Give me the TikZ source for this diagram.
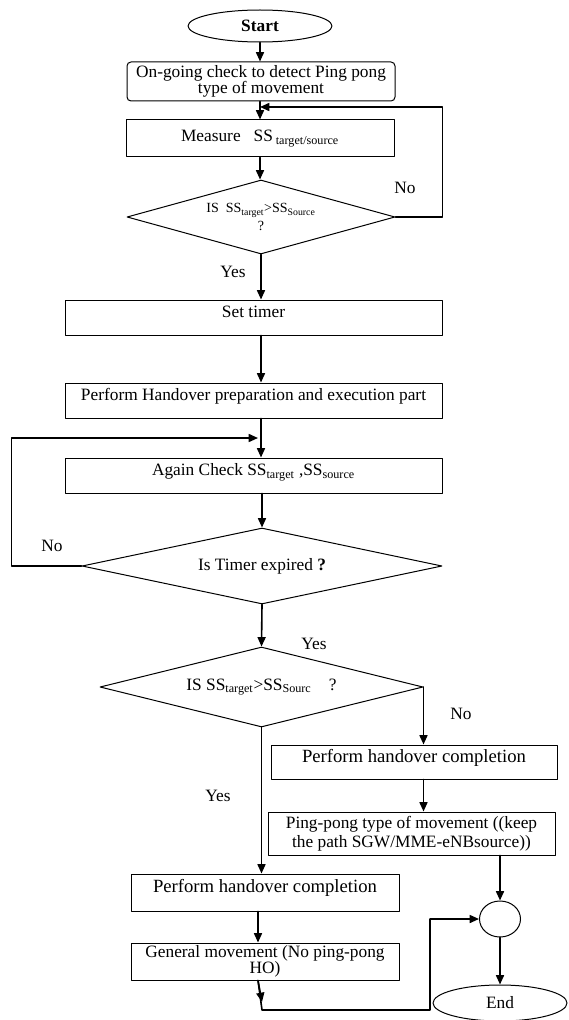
\documentclass[tikz,border=0pt]{standalone}
\usepackage{fontspec}
\setmainfont{Liberation Serif}
\usetikzlibrary{arrows.meta,calc,positioning,shapes.geometric}
\tikzset{
  every picture/.append style={line cap=round,line join=round},
  ho box/.style={draw,rectangle,line width=0.75pt,inner sep=1pt,align=center,font=\fontsize{13}{12}\selectfont},
  ho single/.style={text height=9.5pt,text depth=9pt},
  ho round/.style={ho box,rounded corners=3pt},
  ho decision/.style={draw,diamond,line width=0.75pt,inner sep=0pt,align=center,font=\fontsize{13}{14}\selectfont},
  ho terminal/.style={draw,ellipse,line width=0.75pt,inner sep=0pt,font=\fontsize{13}{14}\selectfont},
  ho arrow/.style={line width=1.2pt,-{Triangle[length=7pt,width=6pt]}},
  ho note/.style={font=\fontsize{13}{14}\selectfont,inner sep=1pt}
}
\begin{document}
\begin{tikzpicture}[x=0.75pt,y=-0.75pt]
  \useasboundingbox (0,0) rectangle (568,1020);
  \node[ho terminal,minimum width=108pt,minimum height=24pt,font=\fontsize{13}{14}\selectfont\bfseries] (start) at (260,26) {Start};
  \node[ho round,minimum width=201pt,minimum height=29.25pt] (ongo) at (261,81.5) {On-going check to detect Ping pong\\type of movement};
  \node[ho box,minimum width=201pt,minimum height=27.75pt,font=\fontsize{13}{14}\selectfont] (measure) at (260,138.5) {Measure~~~SS\,\textsubscript{target/source}};
  \node[ho decision,aspect=3.6,minimum width=201pt,minimum height=55.5pt,font=\fontsize{10.5}{13}\selectfont] (dec1) at (261,217) {IS~~SS\textsubscript{target}>SS\textsubscript{Source}\\?};
  \node[ho box,ho single,minimum width=282.75pt,minimum height=26.25pt] (timer) at (253.5,317.5) {Set timer};
  \node[ho box,ho single,minimum width=282.75pt,minimum height=26.25pt] (prep) at (253.5,400.5) {Perform Handover preparation and execution part};
  \node[ho box,ho single,minimum width=282.75pt,minimum height=26.25pt] (again) at (253.5,475.5) {Again Check SS\textsubscript{target} ,SS\textsubscript{source}};
  \node[ho decision,aspect=4.7,minimum width=270pt,minimum height=57pt] (dec2) at (262,566) {Is Timer expired \textbf{?}};
  \node[ho decision,aspect=4,minimum width=242.25pt,minimum height=60pt] (dec3) at (261.5,687) {IS SS\textsubscript{target}>SS\textsubscript{Sourc}\quad?};
  \node[ho box,ho single,minimum width=214.5pt,minimum height=25.5pt,font=\fontsize{14}{15}\selectfont] (doneR) at (414,762) {Perform handover completion};
  \node[ho box,minimum width=215.25pt,minimum height=32.25pt,font=\fontsize{13}{14}\selectfont] (pingpong) at (411.5,833.5) {Ping-pong type of movement ((keep\\the path SGW/MME-eNBsource))};
  \node[ho box,ho single,minimum width=201pt,minimum height=27.75pt,font=\fontsize{14}{15}\selectfont] (doneL) at (265,892.5) {Perform handover completion};
  \node[ho box,minimum width=201pt,minimum height=27.75pt] (general) at (265,961.5) {General movement (No ping-pong\\HO)};
  \node[draw,ellipse,line width=0.75pt,minimum width=30.75pt,minimum height=27pt] (join) at (500,919) {};
  \node[ho terminal,minimum width=100.5pt,minimum height=27pt] (finish) at (500,1003) {End};

  \coordinate (loopA) at (260,107);
  \coordinate (loopB) at (258,438);
  \coordinate (turn) at (262,1010);

  \draw[ho arrow] (start.south) -- (start.south |- ongo.north);
  \draw[ho arrow] (start.south |- ongo.south) -- (measure.north);
  \draw[ho arrow] (measure.south) -- (measure.south |- dec1.north);
  \draw[ho arrow] (dec1.east) -- ++(47,0) |- (loopA);
  \node[ho note] (no1) at (405,188) {No};
  \draw[ho arrow] (dec1.south) -- (dec1.south |- timer.north);
  \node[ho note] (yes1) at (233,272) {Yes};
  \draw[ho arrow] (dec1.south |- timer.south) -- (dec1.south |- prep.north);
  \draw[ho arrow] (dec1.south |- prep.south) -- (dec1.south |- again.north);
  \draw[ho arrow] (dec2.west) -- ++(-70,0) |- (loopB);
  \node[ho note] (no2) at (52,546) {No};
  \draw[ho arrow] (dec2.north |- again.south) -- (dec2.north);
  \draw[ho arrow] (dec2.south) -- (dec3.north);
  \node[ho note] (yes2) at (314,644) {Yes};
  \draw[ho arrow] (dec3.east) -- (dec3.east |- doneR.north);
  \node[ho note] (no3) at (461,714) {No};
  \draw[ho arrow] (dec3.east |- doneR.south) -- (dec3.east |- pingpong.north);
  \draw[ho arrow] (join.north |- pingpong.south) -- (join.north);
  \draw[ho arrow] (join.south) -- (finish.north);
  \draw[ho arrow] (dec3.south) -- (dec3.south |- doneL.north);
  \node[ho note] (yes3) at (218,796) {Yes};
  \draw[ho arrow] ([xshift=-5.25pt]doneL.south) -- ([xshift=-5.25pt]general.north);
  \draw[ho arrow] ([xshift=-5.25pt]general.south) -- (turn) -- ++(168,0) |- (join.west);
  \draw[ho arrow] ([xshift=-5.25pt]general.south) -- ($(turn)+(0,-8)$);
\end{tikzpicture}
\end{document}
